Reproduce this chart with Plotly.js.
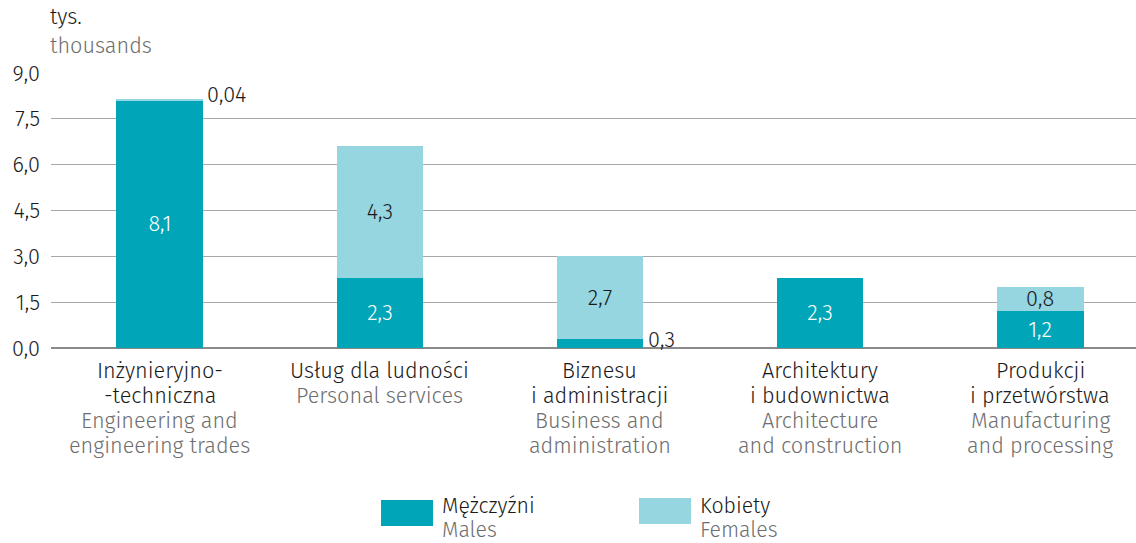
<!DOCTYPE html>
<html>
<head>
<meta charset="utf-8">
<script src="https://cdn.plot.ly/plotly-3.0.1.min.js"></script>
<style>html,body{margin:0;padding:0;background:#fff;}#chart{width:1136px;height:543px;}</style>
</head>
<body>
<div id="chart"></div>
<script>
const categoriesPL = [["Inżynieryjno-", "-techniczna"], ["Usług dla ludności"], ["Biznesu", "i administracji"], ["Architektury", "i budownictwa"], ["Produkcji", "i przetwórstwa"]];
const categoriesEN = [["Engineering and", "engineering trades"], ["Personal services"], ["Business and", "administration"], ["Architecture", "and construction"], ["Manufacturing", "and processing"]];
const males = [8.1, 2.3, 0.3, 2.3, 1.2];
const females = [0.04, 4.3, 2.7, 0, 0.8];
const seriesPL = ["Mężczyźni", "Kobiety"];
const seriesEN = ["Males", "Females"];
const yTicks = [0, 1.5, 3, 4.5, 6, 7.5, 9];

const MALE_C = "#00a6b8", FEMALE_C = "#95d6e0", GREY = "#6e6e6e", DARK = "#1a1a1a";
const FONT = "Fira Sans, Roboto, sans-serif";
const FS = 21.7, FW = 300;
const fmt = (v, d) => v.toFixed(d).replace('.', ',');
const fmtVal = v => (v < 0.1 ? fmt(v, 2) : fmt(v, 1));
const f = (color, size) => ({size: size || FS, color: color, family: FONT, weight: FW});

const x = categoriesPL.map((_, i) => i);
const BW = 0.395;
const insideText = arr => arr.map(v => (v >= 0.5 ? fmtVal(v) : ""));

const traces = [
  {type: 'bar', x: x, y: males, name: seriesPL[0], marker: {color: MALE_C}, width: BW,
   text: insideText(males), textposition: 'inside', insidetextanchor: 'middle', constraintext: 'none',
   textfont: f('#ffffff'), hoverinfo: 'none', cliponaxis: false},
  {type: 'bar', x: x, y: females, name: seriesPL[1], marker: {color: FEMALE_C}, width: BW,
   text: insideText(females), textposition: 'inside', insidetextanchor: 'middle', constraintext: 'none',
   textfont: f(DARK), hoverinfo: 'none', cliponaxis: false}
];

const px2x = p => (p - 51) / 1085, px2y = p => (348 - p) / 275;
const annotations = [];
// small values outside bars
males.forEach((v, i) => {
  if (v > 0 && v < 0.5) annotations.push({x: i + BW / 2, y: v, xref: 'x', yref: 'y', text: fmtVal(v), showarrow: false,
    xanchor: 'left', yanchor: 'middle', xshift: 3, yshift: -1, font: f(DARK)});
});
females.forEach((v, i) => {
  if (v > 0 && v < 0.5) annotations.push({x: i + BW / 2, y: males[i] + v, xref: 'x', yref: 'y', text: fmtVal(v), showarrow: false,
    xanchor: 'left', yanchor: 'middle', xshift: 2, yshift: 4, font: f(DARK)});
});
// category labels, line by line
const LINE0 = 371, LINE_H = 25;
x.forEach(i => {
  const lines = categoriesPL[i].map(t => [t, DARK]).concat(categoriesEN[i].map(t => [t, GREY]));
  lines.forEach((ln, k) => {
    annotations.push({x: i, xref: 'x', yref: 'paper', y: px2y(LINE0 + k * LINE_H), xanchor: 'center', yanchor: 'middle',
      text: ln[0], showarrow: false, font: f(ln[1])});
  });
});
// axis unit title
annotations.push({xref: 'paper', yref: 'paper', x: px2x(48), y: px2y(17), xanchor: 'left', yanchor: 'middle',
  text: 'tys.', showarrow: false, font: f(DARK)});
annotations.push({xref: 'paper', yref: 'paper', x: px2x(48), y: px2y(46), xanchor: 'left', yanchor: 'middle',
  text: 'thousands', showarrow: false, font: f(GREY)});

// custom legend
const shapes = [
  {type: 'rect', xref: 'paper', yref: 'paper', x0: px2x(381), x1: px2x(433), y0: px2y(526), y1: px2y(500), fillcolor: MALE_C, line: {width: 0}},
  {type: 'rect', xref: 'paper', yref: 'paper', x0: px2x(639), x1: px2x(691), y0: px2y(524), y1: px2y(498), fillcolor: FEMALE_C, line: {width: 0}}
];
const legX = [440, 698];
seriesPL.forEach((s, i) => {
  annotations.push({xref: 'paper', yref: 'paper', x: px2x(legX[i]), y: px2y(506), xanchor: 'left', yanchor: 'middle',
    text: s, showarrow: false, font: f(DARK, 21.3)});
  annotations.push({xref: 'paper', yref: 'paper', x: px2x(legX[i]), y: px2y(530), xanchor: 'left', yanchor: 'middle',
    text: seriesEN[i], showarrow: false, font: f(GREY, 21.3)});
});

const layout = {
  width: 1136, height: 543,
  margin: {l: 51, r: 0, t: 73, b: 195, pad: 0},
  paper_bgcolor: '#ffffff', plot_bgcolor: '#ffffff',
  barmode: 'stack', showlegend: false,
  separators: ',.',
  font: f(DARK),
  xaxis: {range: [-0.495, 4.436], tickvals: x, showticklabels: false, showgrid: false, zeroline: false,
    showline: false, ticks: '', fixedrange: true},
  yaxis: {range: [0, 9.001], tickvals: yTicks, ticktext: yTicks.map(v => fmt(v, 1)), showgrid: true,
    gridcolor: '#a8a8a8', gridwidth: 1, zeroline: true, zerolinecolor: '#8a8a8a', zerolinewidth: 2,
    showline: false, ticks: '', ticklabelstandoff: 10, tickfont: f(DARK), fixedrange: true},
  annotations: annotations,
  shapes: shapes
};

Plotly.newPlot('chart', traces, layout, {displayModeBar: false, staticPlot: true});
</script>
</body>
</html>
